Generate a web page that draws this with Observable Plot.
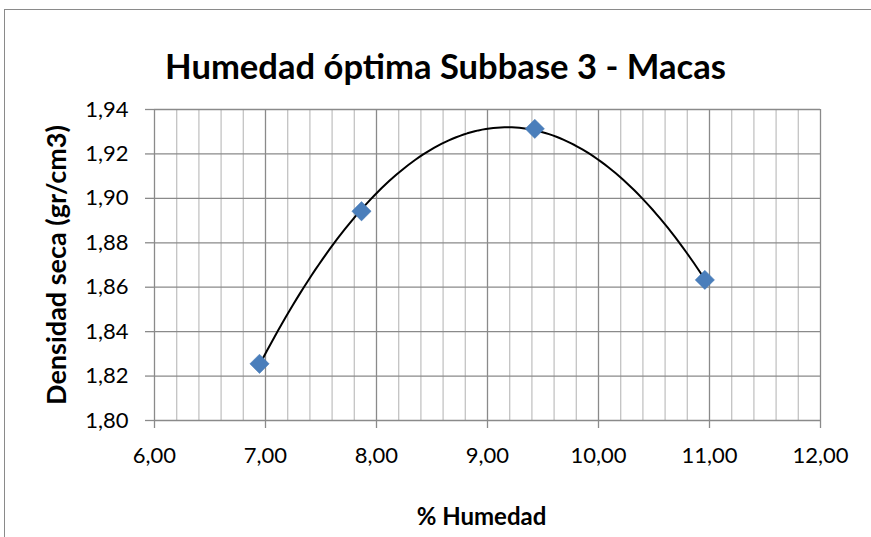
<!DOCTYPE html>
<html>
<head>
<meta charset="utf-8">
<script src="https://cdn.jsdelivr.net/npm/d3@7"></script>
<script src="https://cdn.jsdelivr.net/npm/@observablehq/plot@0.6"></script>
<style>
  html, body { margin: 0; padding: 0; background: #fff; }
  #wrap { position: relative; width: 871px; height: 537px; overflow: hidden; }
  #border { position: absolute; left: 4px; top: 9px; width: 1000px; height: 1000px;
            border-left: 1px solid #8a8a8a; border-top: 1px solid #8a8a8a; box-sizing: border-box; }
  #chart { position: absolute; left: 0; top: 0; }
</style>
</head>
<body>
<div id="wrap"><div id="border"></div><div id="chart"></div></div>
<script>
// ---- data ----
const titleText = "Humedad óptima Subbase 3 - Macas";
const xTitle = "% Humedad";
const yTitle = "Densidad seca (gr/cm3)";
const humedad = [6.946, 7.865, 9.426, 10.958];
const densidad = [1.8255, 1.8942, 1.9313, 1.8633];
const xMajorTicks = [6, 7, 8, 9, 10, 11, 12];
const xMinorTicks = [6.2, 6.4, 6.6, 6.8, 7.2, 7.4, 7.6, 7.8, 8.2, 8.4, 8.6, 8.8,
                     9.2, 9.4, 9.6, 9.8, 10.2, 10.4, 10.6, 10.8, 11.2, 11.4, 11.6, 11.8];
const yTicks = [1.80, 1.82, 1.84, 1.86, 1.88, 1.90, 1.92, 1.94];

const points = humedad.map((h, i) => ({h, d: densidad[i]}));

// Excel-style polynomial (order 2) trendline: least-squares fit of the points
function polyFit2(xs, ys) {
  let s0 = xs.length, s1 = 0, s2 = 0, s3 = 0, s4 = 0, t0 = 0, t1 = 0, t2 = 0;
  xs.forEach((x, i) => {
    const y = ys[i];
    s1 += x; s2 += x * x; s3 += x ** 3; s4 += x ** 4;
    t0 += y; t1 += x * y; t2 += x * x * y;
  });
  const M = [[s0, s1, s2, t0], [s1, s2, s3, t1], [s2, s3, s4, t2]];
  for (let c = 0; c < 3; c++) {
    for (let r = c + 1; r < 3; r++) {
      const f = M[r][c] / M[c][c];
      for (let k = c; k < 4; k++) M[r][k] -= f * M[c][k];
    }
  }
  const b = [0, 0, 0];
  for (let r = 2; r >= 0; r--) {
    let s = M[r][3];
    for (let k = r + 1; k < 3; k++) s -= M[r][k] * b[k];
    b[r] = s / M[r][r];
  }
  return x => b[0] + b[1] * x + b[2] * x * x;
}
const fit = polyFit2(humedad, densidad);
const xMin = d3.min(humedad), xMax = d3.max(humedad);
const trend = d3.range(0, 121).map(i => {
  const h = xMin + (xMax - xMin) * i / 120;
  return {h, d: fit(h)};
});

const fmt = d3.format(".2f");
const comma = v => fmt(v).replace(".", ",");

const chart = Plot.plot({
  width: 871,
  height: 537,
  marginLeft: 154,
  marginRight: 51,
  marginTop: 109,
  marginBottom: 117,
  style: {fontFamily: "Lato, 'Open Sans', sans-serif", fontSize: "22px", color: "black", background: "transparent"},
  x: {domain: [6, 12]},
  y: {domain: [1.80, 1.94]},
  marks: [
    Plot.ruleX(xMinorTicks, {stroke: "#c3c3c3", strokeWidth: 1.3}),
    Plot.ruleX(xMajorTicks, {stroke: "#8a8a8a", strokeWidth: 1.3}),
    Plot.ruleY(yTicks, {stroke: "#8a8a8a", strokeWidth: 1.3}),
    Plot.axisY({ticks: yTicks, tickFormat: comma, tickSize: 9, tickPadding: 17,
                stroke: "#8a8a8a", strokeWidth: 1.3, label: null, fontSize: 22}),
    Plot.axisX({ticks: xMajorTicks, tickFormat: comma, tickSize: 8, tickPadding: 19,
                stroke: "#8a8a8a", strokeWidth: 1.3, label: null, fontSize: 22}),
    Plot.line(trend, {x: "h", y: "d", stroke: "black", strokeWidth: 2, curve: "linear"}),
    Plot.dot(points, {x: "h", y: "d", symbol: "diamond2", r: 8.7, fill: "#4a7ebb", stroke: "#4478b5", strokeWidth: 0.5}),
    Plot.text([titleText], {frameAnchor: "top", textAnchor: "middle", dx: -42, dy: 65 - 0.32 * 34.6 - 109, fontSize: 34.6, fontWeight: "bold", fill: "black"}),
    Plot.text([xTitle], {frameAnchor: "bottom", textAnchor: "middle", dx: -6, dy: 111.7 - 0.32 * 24, fontSize: 24, fontWeight: "bold", fill: "black"}),
    Plot.text([yTitle], {frameAnchor: "left", textAnchor: "middle", dx: 65 - 0.32 * 27 - 154, rotate: -90, fontSize: 27, fontWeight: "bold", fill: "black"})
  ]
});
document.getElementById("chart").appendChild(chart);
</script>
</body>
</html>
